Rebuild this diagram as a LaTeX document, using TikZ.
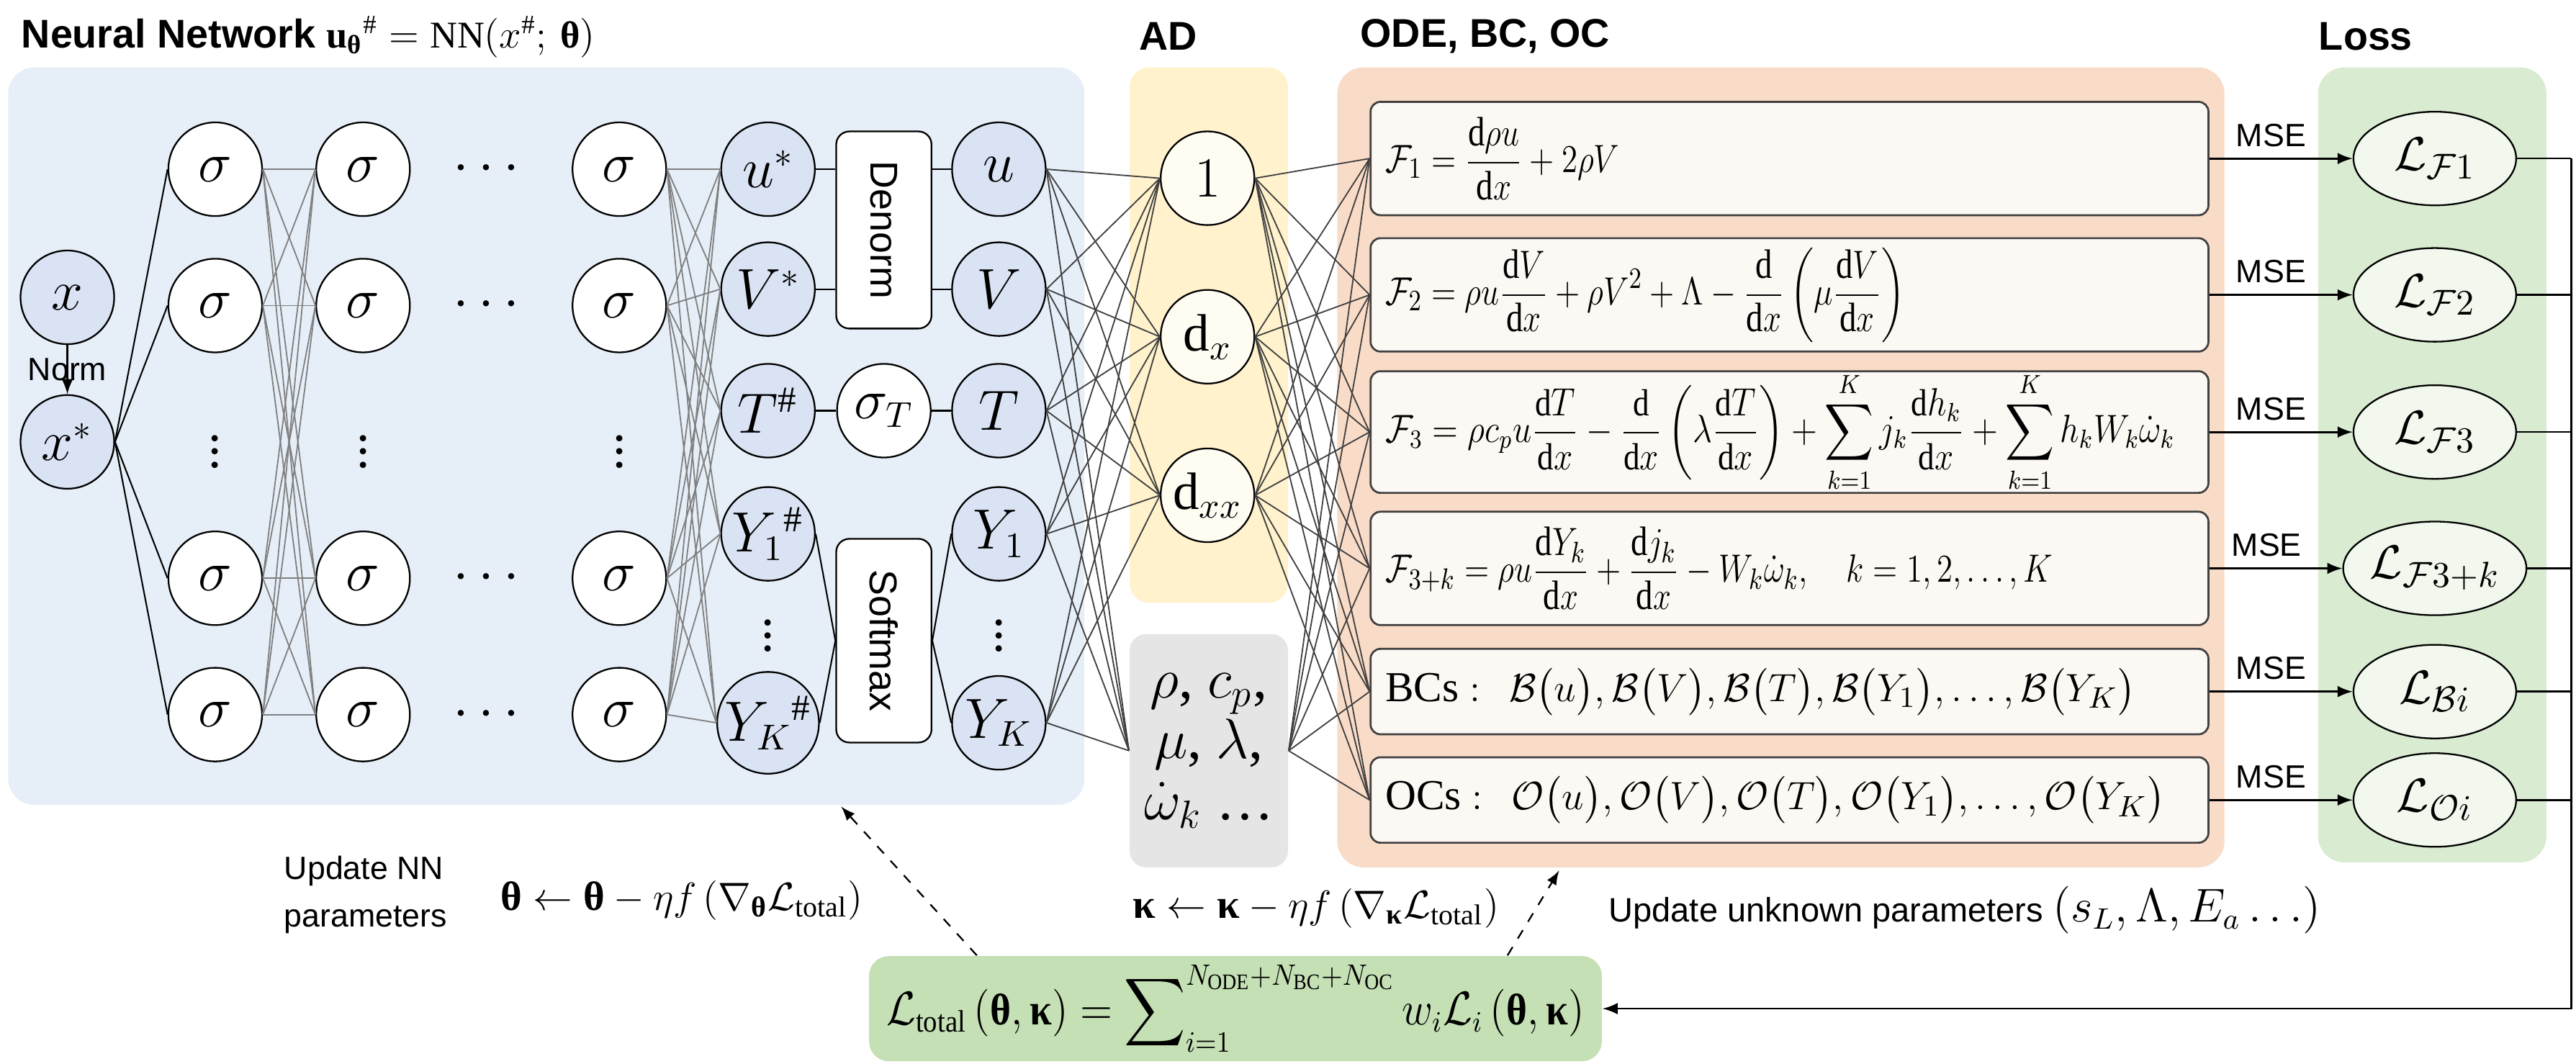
\documentclass[tikz,border=0pt]{standalone}
\usepackage{amsmath}
\usepackage{graphicx}
\usepackage{fontspec}
\setmainfont{Liberation Serif}
\newfontfamily\sansf{Liberation Sans}
\usetikzlibrary{positioning,shapes.geometric}

\definecolor{nnpanel}{HTML}{E6EEF7}
\definecolor{iofill}{HTML}{DAE3F3}
\definecolor{adpanel}{HTML}{FFF2CC}
\definecolor{adfill}{HTML}{FFFCF2}
\definecolor{parpanel}{HTML}{E5E5E5}
\definecolor{odepanel}{HTML}{F9DCC8}
\definecolor{eqfill}{HTML}{FCF8F4}
\definecolor{losspanel}{HTML}{D9EBD1}
\definecolor{lossfill}{HTML}{F2F8EE}
\definecolor{totalfill}{HTML}{C5E0B4}

% upright bold greek, as in the figure
\newcommand{\vth}{\text{\normalfont\bfseries θ}}
\newcommand{\vka}{\text{\normalfont\bfseries κ}}
\newcommand{\narrow}[2][0.82]{\scalebox{#1}[1]{#2}}

\begin{document}
\begin{tikzpicture}[x=0.5pt,y=0.5pt,>=latex,on grid,node distance=41.5pt,
  neuron/.style={circle,draw,line width=0.5pt,fill=white,minimum size=28.5pt,inner sep=0pt,font=\fontsize{16}{18}\selectfont},
  io/.style={neuron,fill=iofill},
  adnode/.style={neuron,fill=adfill},
  lossnode/.style={ellipse,draw,line width=0.5pt,fill=lossfill,minimum width=49.5pt,minimum height=28.5pt,inner sep=0pt,font=\fontsize{15}{18}\selectfont},
  opbox/.style={draw,line width=0.5pt,fill=white,rounded corners=4pt,minimum width=29pt,inner sep=0pt,font=\sansf\fontsize{11.8}{14}\selectfont},
  parbox/.style={fill=parpanel,rounded corners=5pt,minimum width=48.2pt,minimum height=71pt,inner sep=0pt,align=center,font=\fontsize{17.5}{18.5}\selectfont},
  eqbox/.style={draw=black!75,line width=0.6pt,fill=eqfill,rounded corners=3pt,text width=246pt,inner xsep=4.5pt,inner ysep=0pt,align=left,minimum height=34.5pt,font=\fontsize{12.5}{14}\selectfont},
  totalbox/.style={fill=totalfill,rounded corners=6pt,minimum width=223pt,minimum height=32pt,inner sep=0pt,font=\fontsize{13.5}{16}\selectfont},
  wire/.style={draw=black!50,line width=0.4pt},
  adwire/.style={draw=black!75,line width=0.4pt},
  link/.style={draw,line width=0.45pt},
  arr/.style={draw,line width=0.6pt,->},
  dotlabel/.style={font=\fontsize{16}{18}\selectfont},
  head/.style={font=\sansf\bfseries\fontsize{12.2}{14}\selectfont},
  lbl/.style={font=\sansf\fontsize{9.8}{14.5}\selectfont}]

\useasboundingbox (0,0) rectangle (1568,-647.7);

% panels
\fill[nnpanel,rounded corners=8pt] (5,-41) rectangle (660,-490);
\fill[adpanel,rounded corners=6pt] (687.6,-41) rectangle (784,-367);
\fill[odepanel,rounded corners=8pt] (814,-41) rectangle (1354,-528);
\fill[losspanel,rounded corners=8pt] (1411,-41) rectangle (1550,-525);

% titles
\node[head,anchor=base west] (tnn) at (6,-29) {Neural Network {\fontsize{11.5}{14}\selectfont$\mathbf{u}_{\vth}{}^{\#}=\mathrm{NN}(x^{\#};\,\vth)$}};
\node[head] (tad) at (711,-22) {AD};
\node[head,anchor=west] (tode) at (821,-22) {ODE, BC, OC};
\node[head] (tloss) at (1440,-22) {Loss};

% input
\node[io] (x) at (41,-181) {$x$};
\node[io] (xs) [below=44pt of x] {$x^*$};
\draw[arr] (x) -- node[lbl] {Norm} (xs);

% hidden layers
\foreach \col/\xx in {a/131,b/221,c/377}{
  \node[neuron] (\col1) at (\xx,-103) {$\sigma$};
  \node[neuron] (\col2) [below=of \col1] {$\sigma$};
  \node[dotlabel] (\col3) [below=of \col2] {$\vdots$};
  \node[neuron] (\col4) [below=of \col3] {$\sigma$};
  \node[neuron] (\col5) [below=of \col4] {$\sigma$};
}
\foreach \r in {1,2,4,5}
  \node[dotlabel] (m\r) at (b\r -| 299,0) {$\cdots$};

% output layer
\node[io] (us) at (467.5,-103) {$u^*$};
\node[io] (Vs) [below=36.5pt of us] {$V^*$};
\node[io] (Ts) [below=37pt of Vs] {$T^{\#}$};
\node[io] (Y1s) [below=37.5pt of Ts] {$Y_1{}^{\#}$};
\node[dotlabel] (ds) [below=28pt of Y1s] {$\vdots$};
\node[io] (YKs) [below=57.5pt of Y1s] {$Y_K{}^{\#}$};

\node[opbox,minimum height=60pt] (denorm) at (538,-140) {\rotatebox{-90}{Denorm}};
\node[neuron] (sT) [right=35.25pt of Ts] {$\sigma_T$};
\node[opbox,minimum height=62pt] (softmax) at (538,-390) {\rotatebox{-90}{Softmax}};

\node[io] (u) [right=70.25pt of us] {$u$};
\node[io] (V) [right=70.25pt of Vs] {$V$};
\node[io] (T) [right=70.25pt of Ts] {$T$};
\node[io] (Y1) [right=70.25pt of Y1s] {$Y_1$};
\node[dotlabel] (d) [right=70.25pt of ds] {$\vdots$};
\node[io] (YK) [right=70.25pt of YKs] {$Y_K$};

% AD and parameters
\node[adnode] (one) at (735,-108.5) {$1$};
\node[adnode] (dx) [below=48.25pt of one] {$\mathrm{d}_x$};
\node[adnode] (dxx) [below=48.25pt of dx] {$\mathrm{d}_{xx}$};
\node[parbox] (par) at (735.8,-457) {$\rho$, $c_p$,\\ $\mu$, $\lambda$,\\ $\dot{\omega}_k$ \ldots};

% residual boxes
\node[eqbox] (eq1) at (1089.25,-96.5) {\narrow{$\displaystyle \mathcal{F}_1=\frac{\mathrm{d}\rho u}{\mathrm{d}x}+2\rho V$}};
\node[eqbox] (eq2) [below=41.5pt of eq1] {\narrow{$\displaystyle \mathcal{F}_2=\rho u\frac{\mathrm{d}V}{\mathrm{d}x}+\rho V^2+\Lambda-\frac{\mathrm{d}}{\mathrm{d}x}\left(\mu\frac{\mathrm{d}V}{\mathrm{d}x}\right)$}};
\node[eqbox,font=\fontsize{11.5}{13}\selectfont] (eq3) [below=41.75pt of eq2] {\narrow[0.86]{$\displaystyle \mathcal{F}_3=\rho c_p u\frac{\mathrm{d}T}{\mathrm{d}x}-\frac{\mathrm{d}}{\mathrm{d}x}\left(\lambda\frac{\mathrm{d}T}{\mathrm{d}x}\right)+\sum_{k=1}^{K}j_k\frac{\mathrm{d}h_k}{\mathrm{d}x}+\sum_{k=1}^{K}h_kW_k\dot{\omega}_k$}};
\node[eqbox] (eq4) [below=41.5pt of eq3] {\narrow{$\displaystyle \mathcal{F}_{3+k}=\rho u\frac{\mathrm{d}Y_k}{\mathrm{d}x}+\frac{\mathrm{d}j_k}{\mathrm{d}x}-W_k\dot{\omega}_k,\quad k=1,2,\ldots,K$}};
\node[eqbox,minimum height=26pt,font=\fontsize{13}{15}\selectfont] (eq5) [below=37.5pt of eq4] {$\mathrm{BCs:}\ \ \mathcal{B}\bigl(u\bigr),\mathcal{B}\bigl(V\bigr),\mathcal{B}\bigl(T\bigr),\mathcal{B}\bigl(Y_1\bigr),\ldots,\mathcal{B}\bigl(Y_K\bigr)$};
\node[eqbox,minimum height=26pt,font=\fontsize{13}{15}\selectfont] (eq6) [below=33pt of eq5] {$\mathrm{OCs:}\ \ \mathcal{O}\bigl(u\bigr),\mathcal{O}\bigl(V\bigr),\mathcal{O}\bigl(T\bigr),\mathcal{O}\bigl(Y_1\bigr),\ldots,\mathcal{O}\bigl(Y_K\bigr)$};

% losses
\foreach \i/\lab in {1/{\mathcal{F}1},2/{\mathcal{F}2},3/{\mathcal{F}3},4/{\mathcal{F}3+k},5/{\mathcal{B}i},6/{\mathcal{O}i}}
  \node[lossnode] (l\i) [right=196.4pt of eq\i] {$\mathcal{L}_{\lab}$};

\node[totalbox] (total) at (752,-614) {\narrow[0.9]{$\mathcal{L}_{\mathrm{total}}\left(\vth,\vka\right)=\displaystyle\sum\nolimits_{i=1}^{N_{\mathrm{ODE}}+N_{\mathrm{BC}}+N_{\mathrm{OC}}}w_i\mathcal{L}_i\left(\vth,\vka\right)$}};

% update texts
\node[lbl,align=left,anchor=north west] (updnn) at (166,-514) {Update NN\\parameters};
\node[font=\fontsize{12.5}{15}\selectfont] (thupd) at (415,-548) {$\vth\leftarrow\vth-\eta f\left(\nabla_{\vth}\mathcal{L}_{\mathrm{total}}\right)$};
\node[font=\fontsize{12.5}{15}\selectfont] (kapupd) at (801,-553) {$\vka\leftarrow\vka-\eta f\left(\nabla_{\vka}\mathcal{L}_{\mathrm{total}}\right)$};
\node[lbl,font=\sansf\fontsize{10.3}{14}\selectfont] (updpar) at (1196,-554) {Update unknown parameters {\fontsize{13.5}{15}\selectfont$\left(s_L,\Lambda,E_a\ldots\right)$}};

% connections in the network
\foreach \r in {1,2,4,5}
  \draw[link] (xs.east) -- (a\r.west);
\foreach \r in {1,2,4,5}
  \foreach \s in {1,2,4,5}
    \draw[wire] (a\r.east) -- (b\s.west);
\foreach \r in {1,2,4,5}
  \foreach \o in {us,Vs,Ts,Y1s,YKs}
    \draw[wire] (c\r.east) -- (\o.west);

\draw[link] (us) -- (us -| denorm.west);
\draw[link] (Vs) -- (Vs -| denorm.west);
\draw[link] (denorm.east |- u) -- (u);
\draw[link] (denorm.east |- V) -- (V);
\draw[link] (Ts) -- (sT) -- (T);
\draw[link] (Y1s.east) -- (softmax.west);
\draw[link] (YKs.east) -- (softmax.west);
\draw[link] (softmax.east) -- (Y1.west);
\draw[link] (softmax.east) -- (YK.west);

% to AD and residuals
\foreach \o in {u,V,T,Y1,YK}{
  \foreach \a in {one,dx,dxx}
    \draw[adwire] (\o.east) -- (\a.west);
  \draw[adwire] (\o.east) -- (par.west);
}
\foreach \a in {one,dx,dxx,par}
  \foreach \i in {1,...,6}
    \draw[adwire] (\a.east) -- (eq\i.west);

% MSE and feedback
\coordinate (fb) at (1565,-614);
\foreach \i in {1,...,6}{
  \draw[arr] (eq\i) -- node[lbl,above,pos=0.43] {MSE} (l\i);
  \draw[line width=0.55pt] (l\i) -- (l\i -| fb);
}
\draw[arr] (l1 -| fb) -- (fb) -- (total);

\coordinate (nnbot) at (512,-491);
\coordinate (odebot) at (949,-530);
\draw[->,dashed,line width=0.5pt] ([xshift=33pt]total.north west) -- (nnbot);
\draw[->,dashed,line width=0.5pt] ([xshift=194.5pt]total.north west) -- (odebot);
\end{tikzpicture}
\end{document}
